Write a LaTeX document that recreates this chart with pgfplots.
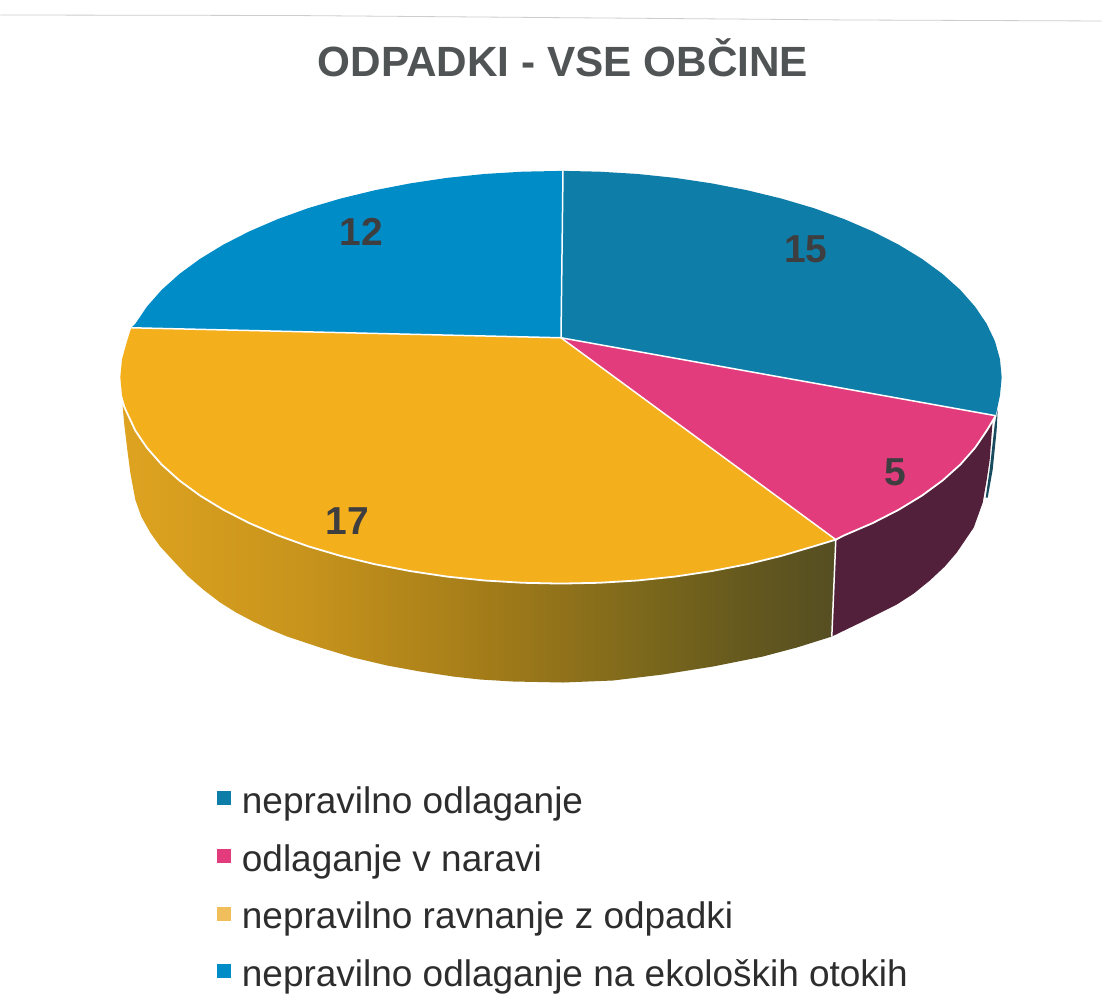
\documentclass[border=0pt]{standalone}
\usepackage{fontspec}
\setmainfont{Liberation Sans}
\usepackage{pgfplots}
\pgfplotsset{compat=1.18}
\definecolor{teal1}{RGB}{14,125,167}
\definecolor{pink1}{RGB}{226,60,125}
\definecolor{gold1}{RGB}{243,176,28}
\definecolor{gold2}{RGB}{240,190,90}
\definecolor{blue1}{RGB}{0,140,198}
\definecolor{maroon1}{RGB}{82,32,58}
\definecolor{sliver}{RGB}{25,75,95}
\definecolor{txt}{RGB}{45,45,45}
\definecolor{gs0}{RGB}{222,163,32}
\definecolor{gs1}{RGB}{200,148,28}
\definecolor{gs2}{RGB}{160,122,25}
\definecolor{gs3}{RGB}{122,103,28}
\definecolor{gs4}{RGB}{100,88,30}
\definecolor{gs5}{RGB}{85,78,35}
\pgfdeclarehorizontalshading{goldside}{100bp}{color(0bp)=(gs0);color(25bp)=(gs0);color(37.5bp)=(gs1);color(51.5bp)=(gs2);color(62bp)=(gs3);color(69bp)=(gs4);color(75bp)=(gs5);color(100bp)=(gs5)}
\newcommand\lh{\hspace*{12pt}}
\pgfplotstableread{
x y
561 338
563 171
599.4 171.8
637.6 174.1
675.1 178
711.8 183.5
747.4 190.4
781.5 198.7
814 208.3
844.5 219.3
872.8 231.5
898.8 244.8
922.3 259.1
942.9 274.2
960.7 290.2
975.4 306.9
987 324.1
995.3 341.6
1000.3 359.5
1002 377.5
1000.3 395.5
996 416
}\sliceA
\pgfplotstableread{
x y
561 338
996 416
987 431
975.4 448.1
960.7 464.8
942.9 480.8
922.3 495.9
898.8 510.2
872.8 523.5
844.5 535.7
836 540
}\sliceB
\pgfplotstableread{
x y
561 338
836 540
814 546.7
781.5 556.3
747.4 564.6
711.8 571.5
675.1 577
637.6 580.9
599.4 583.2
561 584
522.6 583.2
484.4 580.9
446.9 577
410.2 571.5
374.6 564.6
340.5 556.3
308 546.7
277.5 535.7
249.2 523.5
223.2 510.2
199.7 495.9
179.1 480.8
161.3 464.8
146.6 448.1
135 430.9
126.7 413.4
121.7 395.5
120 377.5
121.7 359.5
126.7 341.6
131 328
}\sliceC
\pgfplotstableread{
x y
561 338
131 328
135 324.1
146.6 306.9
161.3 290.2
179.1 274.2
199.7 259.1
223.2 244.8
249.2 231.5
277.5 219.3
308 208.3
340.5 198.7
374.6 190.4
410.2 183.5
446.9 178
484.4 174.1
522.6 171.8
563 171
}\sliceD
\pgfplotstableread{
x y
836 540
814 546.7
781.5 556.3
747.4 564.6
711.8 571.5
675.1 577
637.6 580.9
599.4 583.2
561 584
522.6 583.2
484.4 580.9
446.9 577
410.2 571.5
374.6 564.6
340.5 556.3
308 546.7
277.5 535.7
249.2 523.5
223.2 510.2
199.7 495.9
179.1 480.8
161.3 464.8
146.6 448.1
135 430.9
122 403
124 425
127 450
130 473
135 500
141 517
150 533
160 547
172 560
187 576
203 590
220 603
236 613
253 622
270 630
287 637
320 648
353 658
387 666
420 672
453 677
480 680
513 682
563 683
613 681
663 675
713 667
763 657
797 648
832 637
}\sideC
\pgfplotstableread{
x y
836 540
844.5 535.7
872.8 523.5
898.8 510.2
922.3 495.9
942.9 480.8
960.7 464.8
975.4 448.1
987 431
993 420
990 460
987 480
983 503
974 528
957 553
945 567
930 581
914 594
897 605
863 622
832 637
}\sideB
\pgfplotstableread{
x y lab
806 249 15
896 473 5
347 521 17
361 232 12
}\values
\begin{document}
\begin{tikzpicture}
\begin{axis}[
  scale only axis, width=1102pt, height=1006pt,
  xmin=0, xmax=1102, ymin=0, ymax=1006, y dir=reverse,
  hide axis, clip=false,
  legend style={at={(axis cs:216.5,786)}, anchor=north west, draw=none, fill=none,
    font=\fontsize{37}{37}\selectfont, text=txt, row sep=21.7pt, inner sep=0pt,
    nodes={text height=28pt, text depth=8pt, inner sep=0pt, anchor=base west}},
  legend cell align=left,
]
\addplot[forget plot, fill=white, draw=none] coordinates {(0,0)(1102,0)(1102,1006)(0,1006)} -- cycle;
\addplot[forget plot, draw={rgb,255:red,205;green,205;blue,205}, line width=0.8pt] coordinates {(0,15)(290,15.5)(850,20)(1102,21)};
\addplot[forget plot, shading=goldside, draw=none] table {\sideC} -- cycle;
\addplot[forget plot, fill=maroon1, draw=none] table {\sideB} -- cycle;
\addplot[forget plot, fill=sliver, draw=none] coordinates {(998,410)(995,425)(990,470)(986,498)(988,498)(993,470)(997,430)} -- cycle;
\addplot[forget plot, fill=teal1, draw=none] table {\sliceA} -- cycle;
\addplot[forget plot, fill=pink1, draw=none] table {\sliceB} -- cycle;
\addplot[forget plot, fill=gold1, draw=none] table {\sliceC} -- cycle;
\addplot[forget plot, fill=blue1, draw=none] table {\sliceD} -- cycle;
% white separators
\addplot[forget plot, white, line width=1.5pt] coordinates {(561,338)(563,171)};
\addplot[forget plot, white, line width=1.5pt] coordinates {(131,328)(561,338)(996,416)};
\addplot[forget plot, white, line width=1.5pt] coordinates {(561,338)(836,540)(832,637)};
\addplot[forget plot, white, line width=1.8pt] table {
122 403
135 430.9
146.6 448.1
161.3 464.8
179.1 480.8
199.7 495.9
223.2 510.2
249.2 523.5
277.5 535.7
308 546.7
340.5 556.3
374.6 564.6
410.2 571.5
446.9 577
484.4 580.9
522.6 583.2
561 584
599.4 583.2
637.6 580.9
675.1 577
711.8 571.5
747.4 564.6
781.5 556.3
814 546.7
836 540
844.5 535.7
872.8 523.5
898.8 510.2
922.3 495.9
942.9 480.8
960.7 464.8
975.4 448.1
987 431
996 416
};
\addplot[forget plot, only marks, mark=none, point meta=explicit symbolic,
  nodes near coords, nodes near coords style={anchor=center, inner sep=0pt, text={rgb,255:red,62;green,62;blue,64},
  font=\fontsize{39}{39}\selectfont\bfseries}]
  table[meta=lab] {\values};
\node[anchor=base, text={rgb,255:red,80;green,84;blue,84}, font=\fontsize{42.3}{43}\selectfont\bfseries] at (axis cs:563,77) {ODPADKI - VSE OBČINE};
\addlegendimage{only marks, mark=square*, mark size=6.5pt, color=teal1, mark options={yshift=15.5pt}}
\addlegendentry{\lh nepravilno odlaganje}
\addlegendimage{only marks, mark=square*, mark size=6.5pt, color=pink1, mark options={yshift=15.5pt}}
\addlegendentry{\lh odlaganje v naravi}
\addlegendimage{only marks, mark=square*, mark size=6.5pt, color=gold2, mark options={yshift=15.5pt}}
\addlegendentry{\lh nepravilno ravnanje z odpadki}
\addlegendimage{only marks, mark=square*, mark size=6.5pt, color=blue1, mark options={yshift=15.5pt}}
\addlegendentry{\lh nepravilno odlaganje na ekoloških otokih}
\end{axis}
\end{tikzpicture}
\end{document}
